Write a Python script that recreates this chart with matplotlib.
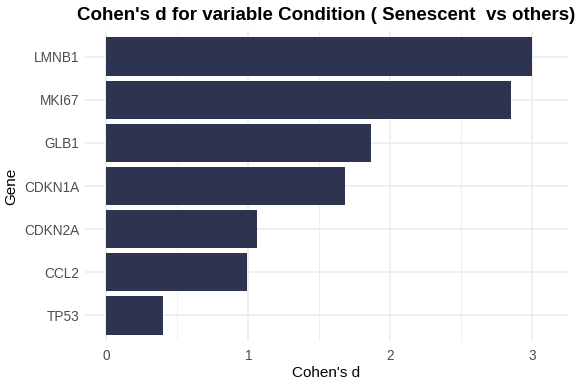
import matplotlib
matplotlib.use("Agg")
import matplotlib.pyplot as plt
from matplotlib.ticker import MultipleLocator

plt.rcParams['font.family'] = ['Liberation Sans', 'DejaVu Sans']

# data (top to bottom as shown)
genes = ["LMNB1", "MKI67", "GLB1", "CDKN1A", "CDKN2A", "CCL2", "TP53"]
cohens_d = [3.00, 2.85, 1.86, 1.68, 1.06, 0.99, 0.40]

bar_color = "#2E3350"
grid_color = "#EBEBEB"
tick_color = "#4D4D4D"

fig = plt.figure(figsize=(5.76, 3.84), dpi=100)
ax = fig.add_axes([85 / 576, 1 - 341 / 384, (568 - 85) / 576, (341 - 31) / 384])

ypos = list(range(len(genes), 0, -1))
ax.barh(ypos, cohens_d, height=0.9, color=bar_color, zorder=2)

ax.set_xlim(-0.15, 3.25)
ax.set_ylim(0.4, len(genes) + 0.6)
ax.set_yticks(ypos)
ax.set_yticklabels(genes)
ax.xaxis.set_major_locator(MultipleLocator(1))
ax.xaxis.set_minor_locator(MultipleLocator(0.5))

# theme_minimal look
for s in ax.spines.values():
    s.set_visible(False)
ax.grid(True, which="major", color=grid_color, linewidth=1.1, zorder=0)
ax.grid(True, which="minor", axis="x", color=grid_color, linewidth=0.55, zorder=0)
ax.set_axisbelow(True)
ax.tick_params(axis="both", which="both", length=0, labelsize=9.8, labelcolor=tick_color)
ax.tick_params(axis="x", pad=6)
ax.tick_params(axis="y", pad=4)

ax.set_xlabel("Cohen's d", fontsize=11, labelpad=2)
ax.set_ylabel("Gene", fontsize=11, labelpad=4)
ax.set_title("Cohen's d for variable Condition ( Senescent  vs others)",
             fontsize=13.5, fontweight="bold", pad=8)

fig.savefig("out.png", dpi=100, facecolor="white")
